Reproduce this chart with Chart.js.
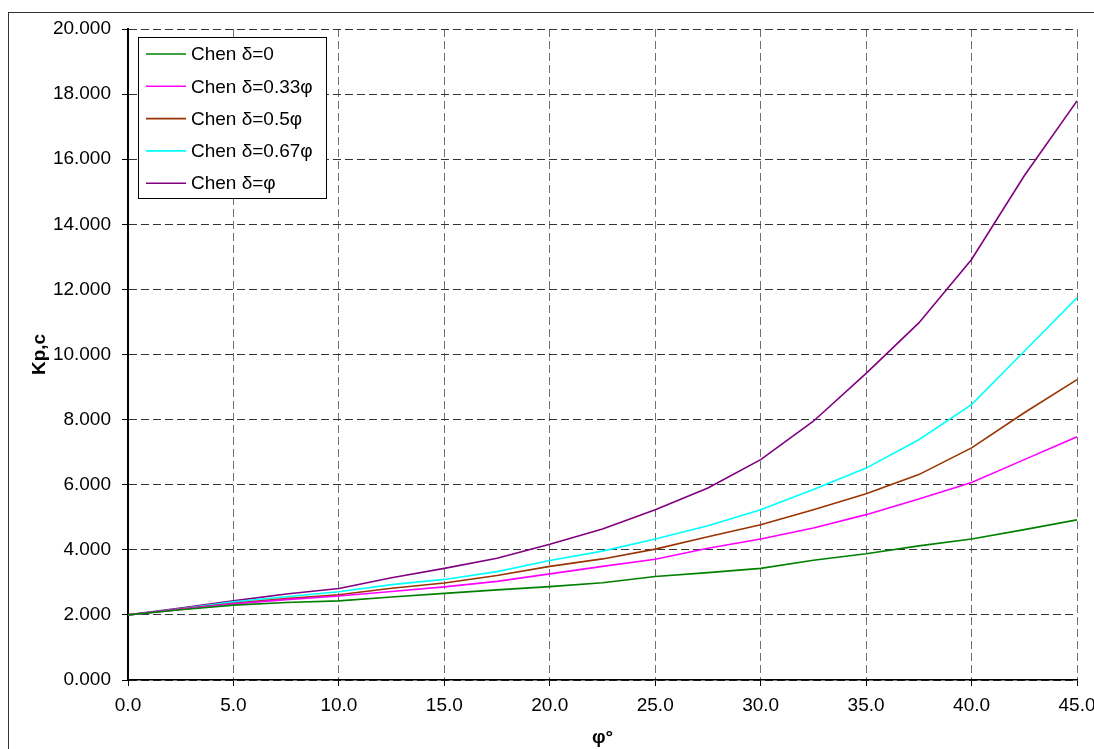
<!DOCTYPE html>
<html>
<head>
<meta charset="utf-8">
<title>Kp,c vs φ</title>
<script src="https://cdn.jsdelivr.net/npm/chart.js@4/dist/chart.umd.min.js"></script>
<style>
  html, body { margin: 0; padding: 0; background: #fff; }
  #wrap { width: 1094px; height: 749px; }
</style>
</head>
<body>
<div id="wrap"><canvas id="chart" width="1094" height="749"></canvas></div>
<script>
// friction angle (deg) and Kp,c for each wall friction ratio
const phi = [0, 2.5, 5, 7.5, 10, 12.5, 15, 17.5, 20, 22.5, 25, 27.5, 30, 32.5, 35, 37.5, 40, 42.5, 45];
const kpDelta0    = [2.0, 2.16, 2.30, 2.38, 2.43, 2.55, 2.66, 2.77, 2.87, 2.99, 3.18, 3.30, 3.43, 3.68, 3.88, 4.12, 4.33, 4.62, 4.92];
const kpDelta033  = [2.0, 2.17, 2.34, 2.47, 2.58, 2.72, 2.86, 3.03, 3.26, 3.49, 3.71, 4.05, 4.33, 4.67, 5.08, 5.56, 6.07, 6.77, 7.47];
const kpDelta05   = [2.0, 2.18, 2.36, 2.50, 2.62, 2.82, 2.98, 3.21, 3.49, 3.72, 4.02, 4.40, 4.77, 5.23, 5.72, 6.31, 7.13, 8.21, 9.23];
const kpDelta067  = [2.0, 2.19, 2.40, 2.56, 2.71, 2.93, 3.09, 3.33, 3.67, 3.96, 4.33, 4.74, 5.23, 5.85, 6.51, 7.38, 8.46, 10.10, 11.74];
const kpDeltaPhi  = [2.0, 2.21, 2.43, 2.64, 2.81, 3.14, 3.43, 3.74, 4.17, 4.64, 5.23, 5.90, 6.77, 7.95, 9.42, 10.97, 12.92, 15.49, 17.79];

const seriesLabels = ['Chen δ=0', 'Chen δ=0.33φ', 'Chen δ=0.5φ', 'Chen δ=0.67φ', 'Chen δ=φ'];
const seriesColors = ['#008000', '#ff00ff', '#993300', '#00ffff', '#800080'];
const seriesValues = [kpDelta0, kpDelta033, kpDelta05, kpDelta067, kpDeltaPhi];

const xTitle = 'φ°';
const yTitle = 'Kp,c';
const FONT = 'Arial, "Liberation Sans", sans-serif';

const datasets = seriesValues.map((vals, i) => ({
  label: seriesLabels[i],
  data: vals.map((v, j) => ({ x: phi[j], y: v })),
  borderColor: seriesColors[i],
  backgroundColor: seriesColors[i],
  borderWidth: 1.6,
  pointRadius: 0,
  tension: 0,
  fill: false
}));

// outer frame, axis titles and boxed legend
const decor = {
  id: 'decor',
  beforeDraw(chart) {
    const ctx = chart.ctx;
    ctx.save();
    ctx.strokeStyle = '#333';
    ctx.lineWidth = 1;
    ctx.strokeRect(8.5, 12.5, 1200, 1000);
    ctx.restore();
  },
  afterDraw(chart) {
    const ctx = chart.ctx;
    const area = chart.chartArea;
    ctx.save();
    ctx.fillStyle = '#000';
    ctx.font = 'bold 19px ' + FONT;
    ctx.textAlign = 'center';
    ctx.textBaseline = 'middle';
    ctx.fillText(xTitle, (area.left + area.right) / 2, 738);
    ctx.translate(40, (area.top + area.bottom) / 2);
    ctx.rotate(-Math.PI / 2);
    ctx.fillText(yTitle, 0, 0);
    ctx.restore();

    // legend
    const lx = 138.5, ly = 37.5, lw = 188, lh = 161;
    ctx.save();
    ctx.fillStyle = '#fff';
    ctx.fillRect(lx, ly, lw, lh);
    ctx.strokeStyle = '#000';
    ctx.lineWidth = 1;
    ctx.strokeRect(lx, ly, lw, lh);
    ctx.font = '19px ' + FONT;
    ctx.textAlign = 'left';
    ctx.textBaseline = 'middle';
    chart.data.datasets.forEach((ds, i) => {
      const y = 54 + i * 32.3;
      ctx.strokeStyle = ds.borderColor;
      ctx.lineWidth = 1.6;
      ctx.beginPath();
      ctx.moveTo(146, y);
      ctx.lineTo(186, y);
      ctx.stroke();
      ctx.fillStyle = '#000';
      ctx.fillText(ds.label, 191, y + 1);
    });
    ctx.restore();
  }
};

new Chart(document.getElementById('chart'), {
  type: 'line',
  data: { datasets },
  plugins: [decor],
  options: {
    responsive: false,
    animation: false,
    layout: { padding: { top: 29, right: 17, left: 0, bottom: 0 } },
    plugins: { legend: { display: false }, tooltip: { enabled: false } },
    scales: {
      x: {
        type: 'linear',
        min: 0, max: 45,
        ticks: {
          stepSize: 5,
          color: '#000',
          font: { family: FONT, size: 19 },
          padding: 8,
          maxRotation: 0,
          callback: v => Number(v).toFixed(1)
        },
        grid: { color: '#707070', tickColor: '#000', tickLength: 6, tickBorderDash: [] },
        border: { color: '#000', width: 1.5, dash: [8, 4] },
        afterFit(scale) { scale.height = 69; scale.paddingLeft = 0; scale.paddingRight = 0; }
      },
      y: {
        min: 0, max: 20,
        ticks: {
          stepSize: 2,
          color: '#000',
          font: { family: FONT, size: 19 },
          padding: 11,
          callback: v => Number(v).toFixed(3)
        },
        grid: { color: '#333', tickColor: '#000', tickLength: 6, tickBorderDash: [] },
        border: { color: '#000', width: 2, dash: [8, 4] },
        afterFit(scale) { scale.width = 128; scale.paddingTop = 0; scale.paddingBottom = 0; }
      }
    }
  }
});
</script>
</body>
</html>
